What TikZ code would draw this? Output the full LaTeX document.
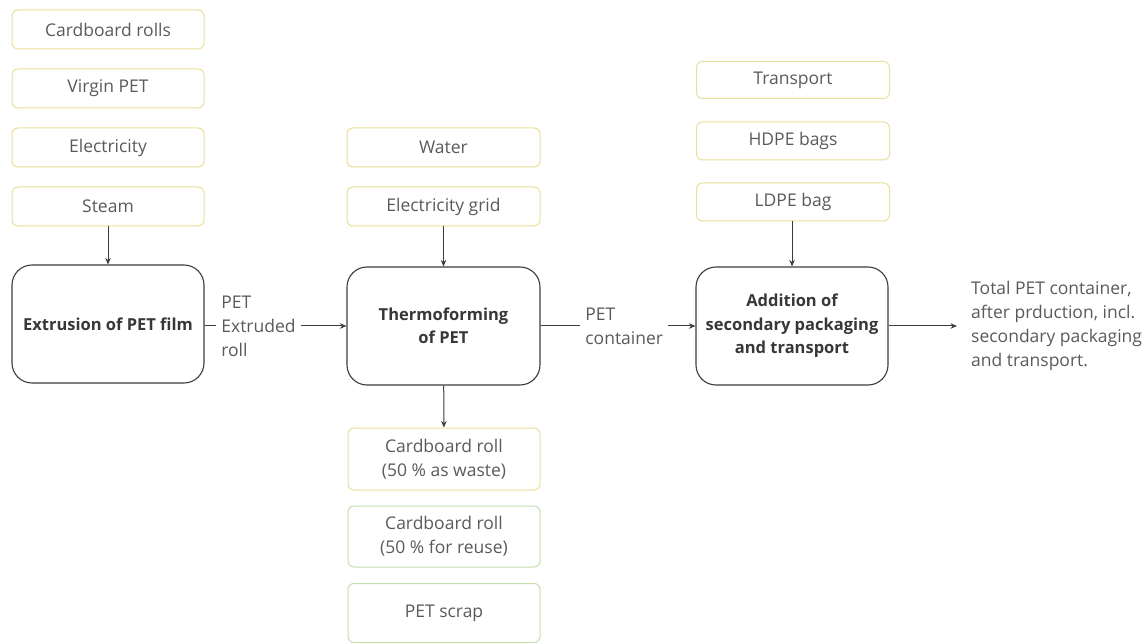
\documentclass[tikz,border=0pt]{standalone}
\usepackage{fontspec}
\setmainfont{Open Sans}
\usetikzlibrary{arrows.meta}
\definecolor{inyellow}{RGB}{234,223,152}
\definecolor{outgreen}{RGB}{196,222,174}
\definecolor{linegray}{RGB}{60,60,60}
\definecolor{textgray}{RGB}{90,90,90}
\definecolor{boldgray}{RGB}{55,55,55}
\begin{document}
\begin{tikzpicture}[x=1pt,y=-1pt,
  every node/.style={font=\fontsize{17.5}{24}\selectfont},
  flowbox/.style={draw=inyellow, line width=1pt, rounded corners=6pt,
    minimum width=192pt, minimum height=39pt, inner sep=0pt,
    text=textgray, align=center},
  outbox/.style={flowbox, draw=outgreen},
  procbox/.style={draw=linegray, line width=1.1pt, rounded corners=20pt,
    minimum width=192pt, minimum height=118pt, inner sep=0pt,
    text=boldgray, align=center, font=\fontsize{16.5}{23.5}\selectfont\bfseries},
  flow/.style={draw=linegray, line width=1pt, -{Stealth[length=6.5pt,width=5.5pt]}},
  flowlabel/.style={fill=white, text=textgray, align=left, inner sep=5pt}
]
\useasboundingbox (0,0) rectangle (1146,644);

% Extrusion inputs
\node[flowbox] (cardrolls) at (108,29.5) {Cardboard rolls};
\node[flowbox] (virgin) at (108,88.5) {Virgin PET};
\node[flowbox] (elec) at (108,147.5) {Electricity};
\node[flowbox] (steam) at (108,206.5) {Steam};

% Thermoforming inputs
\node[flowbox, minimum width=193pt] (water) at (443.5,147.5) {Water};
\node[flowbox, minimum width=193pt] (grid) at (443.5,206.5) {Electricity grid};

% Packaging inputs
\node[flowbox, minimum width=193pt, minimum height=37pt] (transport) at (793,80) {Transport};
\node[flowbox, minimum width=193pt, minimum height=38pt] (hdpe) at (793,141) {HDPE bags};
\node[flowbox, minimum width=193pt, minimum height=38pt] (ldpe) at (793,202) {LDPE bag};

% Process steps
\node[procbox] (extrusion) at (108,324) {Extrusion of PET film};
\node[procbox, minimum width=193pt] (thermo) at (443.5,326) {Thermoforming\\of PET};
\node[procbox] (addition) at (792,326) {Addition of\\secondary packaging\\and transport};

% Thermoforming outputs
\node[flowbox, minimum height=62pt] (waste) at (444,459) {Cardboard roll\\(50 \% as waste)};
\node[outbox, minimum height=61pt] (reuse) at (444,536.5) {Cardboard roll\\(50 \% for reuse)};
\node[outbox, minimum height=59pt] (scrap) at (444,613) {PET scrap};

% Final product
\coordinate (final) at (957,326);
\node[anchor=west, text=textgray, align=left, inner sep=0pt] (total) at (971,326)
  {Total PET container,\\after prduction, incl.\\secondary packaging\\and transport.};

% Connectors
\draw[flow] (steam) -- (extrusion);
\draw[flow] (grid) -- (thermo);
\draw[flow] (ldpe.south -| addition.north) -- (addition);
\draw[flow] (thermo) -- (waste);
\draw[flow] (extrusion.east |- thermo.west) -- (thermo.west)
  node[flowlabel, pos=0.38] {PET\\Extruded\\roll};
\draw[flow] (thermo) -- (addition)
  node[flowlabel, pos=0.54] {PET\\container};
\draw[flow] (addition) -- (final);
\end{tikzpicture}
\end{document}
